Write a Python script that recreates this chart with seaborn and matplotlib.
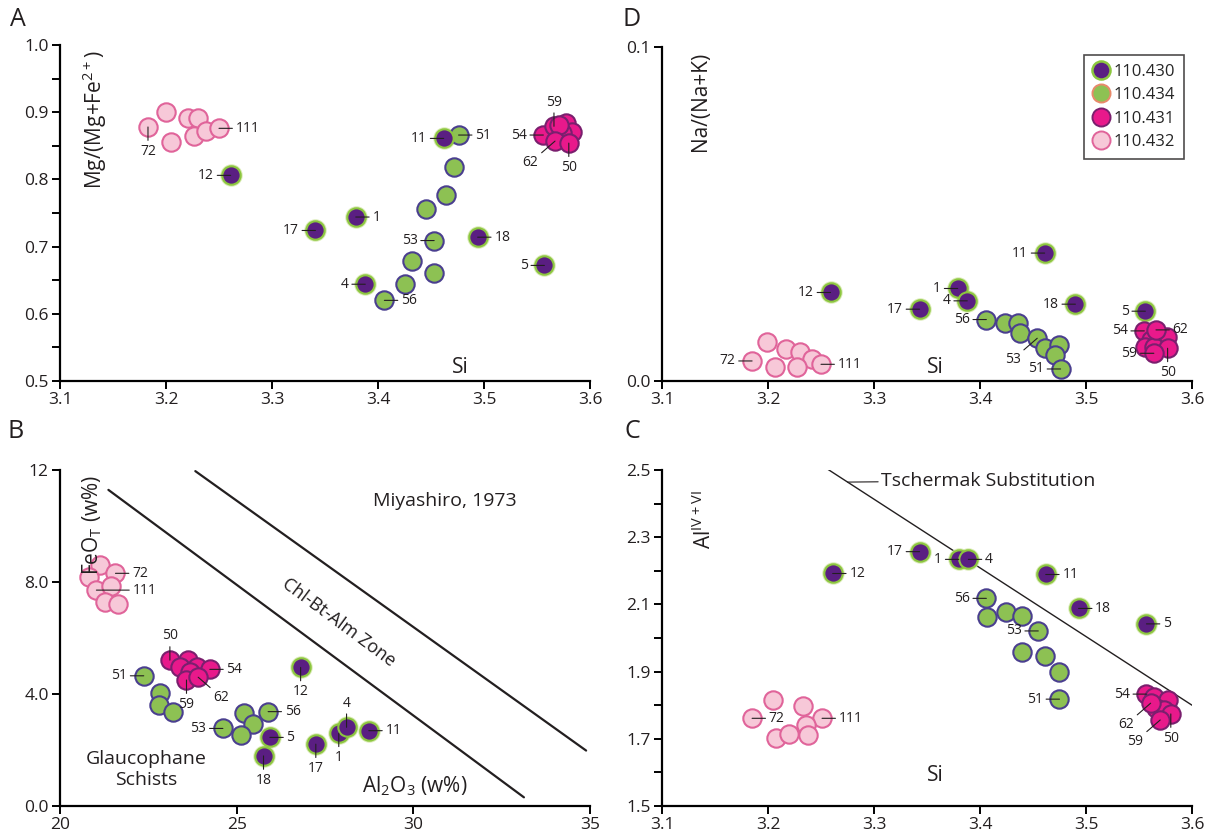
import math
import pandas as pd
import seaborn as sns
import matplotlib.pyplot as plt
from matplotlib.lines import Line2D
from matplotlib.ticker import MultipleLocator, FormatStrFormatter

# ---------------- data ----------------
groups = ['110.430', '110.434', '110.431', '110.432']

# A: Si vs Mg/(Mg+Fe2+)
a_430_si = [3.261, 3.341, 3.379, 3.388, 3.494, 3.557, 3.462]
a_430_y = [0.806, 0.724, 0.744, 0.644, 0.714, 0.672, 0.861]
a_430_lbl = ['12', '17', '1', '4', '18', '5', '11']
a_434_si = [3.476, 3.472, 3.464, 3.445, 3.453, 3.432, 3.453, 3.425, 3.406]
a_434_y = [0.866, 0.819, 0.777, 0.756, 0.709, 0.679, 0.661, 0.644, 0.620]
a_434_lbl = ['51', '', '', '', '53', '', '', '', '56']
a_431_si = [3.556, 3.566, 3.577, 3.583, 3.574, 3.571, 3.567, 3.580]
a_431_y = [0.866, 0.879, 0.884, 0.871, 0.869, 0.881, 0.857, 0.854]
a_431_lbl = ['54', '59', '', '', '', '', '62', '50']
a_432_si = [3.183, 3.200, 3.205, 3.221, 3.230, 3.226, 3.238, 3.250]
a_432_y = [0.878, 0.901, 0.855, 0.892, 0.892, 0.864, 0.872, 0.876]
a_432_lbl = ['72', '', '', '', '', '', '', '111']

# D: Si vs Na/(Na+K)
d_430_si = [3.259, 3.343, 3.379, 3.388, 3.490, 3.556, 3.461]
d_430_y = [0.0265, 0.0215, 0.0277, 0.0240, 0.0230, 0.0209, 0.0383]
d_430_lbl = ['12', '17', '1', '4', '18', '5', '11']
d_434_si = [3.406, 3.424, 3.436, 3.438, 3.454, 3.461, 3.475, 3.471, 3.476]
d_434_y = [0.0184, 0.0174, 0.0174, 0.0143, 0.0128, 0.0100, 0.0108, 0.0078, 0.0036]
d_434_lbl = ['56', '', '', '', '53', '', '', '', '51']
d_431_si = [3.555, 3.576, 3.561, 3.556, 3.564, 3.577, 3.564, 3.566]
d_431_y = [0.0150, 0.0133, 0.0123, 0.0103, 0.0103, 0.0098, 0.0083, 0.0153]
d_431_lbl = ['54', '', '', '', '', '50', '59', '62']
d_432_si = [3.185, 3.1995, 3.217, 3.230, 3.2415, 3.250, 3.207, 3.227]
d_432_y = [0.0060, 0.0116, 0.0096, 0.0086, 0.0066, 0.0050, 0.0043, 0.0043]
d_432_lbl = ['72', '', '', '', '', '111', '', '']

# B: Al2O3 vs FeOT (w%)
b_430_al = [26.81, 27.24, 27.89, 28.11, 25.76, 25.94, 28.74]
b_430_fe = [4.95, 2.21, 2.60, 2.81, 1.79, 2.45, 2.69]
b_430_lbl = ['12', '17', '1', '4', '18', '5', '11']
b_434_al = [22.37, 22.83, 22.81, 23.19, 24.61, 25.22, 25.47, 25.11, 25.89]
b_434_fe = [4.65, 4.05, 3.61, 3.35, 2.77, 3.31, 2.92, 2.54, 3.37]
b_434_lbl = ['51', '', '', '', '53', '', '', '', '56']
b_431_al = [23.11, 23.63, 23.39, 23.87, 24.24, 23.67, 23.58, 23.91]
b_431_fe = [5.21, 5.21, 4.96, 4.96, 4.88, 4.80, 4.50, 4.60]
b_431_lbl = ['50', '', '', '', '54', '', '59', '62']
b_432_al = [21.14, 20.83, 21.57, 21.03, 21.44, 21.28, 21.64]
b_432_fe = [8.61, 8.19, 8.31, 7.71, 7.87, 7.30, 7.20]
b_432_lbl = ['', '', '72', '111', '', '', '']

# C: Si vs Al(IV+VI)
c_430_si = [3.261, 3.343, 3.380, 3.389, 3.493, 3.557, 3.462]
c_430_y = [2.192, 2.257, 2.234, 2.234, 2.088, 2.042, 2.189]
c_430_lbl = ['12', '17', '1', '4', '18', '5', '11']
c_434_si = [3.406, 3.407, 3.425, 3.440, 3.455, 3.440, 3.461, 3.475, 3.475]
c_434_y = [2.118, 2.063, 2.076, 2.065, 2.021, 1.958, 1.946, 1.898, 1.818]
c_434_lbl = ['56', '', '', '', '53', '', '', '', '51']
c_431_si = [3.557, 3.564, 3.577, 3.566, 3.574, 3.580, 3.570, 3.561]
c_431_y = [1.833, 1.823, 1.814, 1.791, 1.786, 1.774, 1.756, 1.806]
c_431_lbl = ['54', '', '', '', '', '50', '59', '62']
c_432_si = [3.185, 3.205, 3.233, 3.251, 3.208, 3.220, 3.236, 3.238]
c_432_y = [1.761, 1.815, 1.799, 1.761, 1.701, 1.713, 1.741, 1.711]
c_432_lbl = ['72', '', '', '111', '', '', '', '']

# reference lines
miyashiro_lo_al = [21.37, 33.13]
miyashiro_lo_fe = [11.29, 0.31]
miyashiro_hi_al = [23.83, 34.89]
miyashiro_hi_fe = [11.96, 1.98]
tschermak_si = [3.2565, 3.60]
tschermak_al = [2.502, 1.80]

# ---------------- style ----------------
sns.set_theme(style='ticks')
plt.rcParams['font.family'] = ['Open Sans', 'DejaVu Sans']
plt.rcParams['mathtext.default'] = 'regular'
INK = '#231f20'

fill = {'110.430': '#5a1e82', '110.434': '#8dc153', '110.431': '#e8198b', '110.432': '#f7c8d8'}
edge = {'110.430': '#8cc63f', '110.434': '#4a3f8f', '110.431': '#7a1f6e', '110.432': '#e0649a'}

OFF = {'l': (-12, 0, 'right', 'center'), 'r': (12, 0, 'left', 'center'),
       't': (0, 12, 'center', 'bottom'), 'b': (0, -12, 'center', 'top'),
       'bl': (-12, -10, 'right', 'top'), 'br': (11, -9, 'left', 'top'),
       'rr': (26, 0, 'left', 'center')}

a_where = {'12': 'l', '17': 'l', '1': 'r', '4': 'l', '18': 'r', '5': 'l', '11': 'l', '51': 'r', '53': 'l',
           '56': 'r', '54': 'l', '59': 't', '62': 'bl', '50': 'b', '72': 'b', '111': 'r'}
d_where = {'12': 'l', '17': 'l', '1': 'l', '4': 'l', '18': 'l', '5': 'l', '11': 'l', '56': 'l', '53': 'bl',
           '51': 'l', '54': 'l', '62': 'r', '59': 'l', '50': 'b', '72': 'l', '111': 'r'}
b_where = {'12': 'b', '17': 'b', '1': 'b', '4': 't', '18': 'b', '5': 'r', '11': 'r', '51': 'l', '53': 'l',
           '56': 'r', '50': 't', '54': 'r', '59': 'b', '62': 'br', '72': 'r', '111': 'rr'}
c_where = {'12': 'r', '17': 'l', '1': 'l', '4': 'r', '18': 'r', '5': 'r', '11': 'r', '56': 'l', '53': 'l',
           '51': 'l', '54': 'l', '62': 'bl', '59': 'bl', '50': 'b', '72': 'r', '111': 'r'}


def draw_group(ax, xs, ys, lbls, g, where):
    df = pd.DataFrame({'x': xs, 'y': ys})
    if g == '110.430':
        # soft green halo round the purple dots
        sns.scatterplot(data=df, x='x', y='y', ax=ax, s=260, color='#cfe6a0', linewidth=0,
                        alpha=0.8, legend=False, zorder=2, clip_on=False)
    sns.scatterplot(data=df, x='x', y='y', ax=ax, s=175, color=fill[g], edgecolor=edge[g],
                    linewidth=1.5, legend=False, zorder=3, clip_on=False)
    for x, y, t in zip(xs, ys, lbls):
        if not t:
            continue
        dx, dy, ha, va = OFF[where[t]]
        ax.annotate(t, xy=(x, y), xytext=(dx, dy), textcoords='offset points', ha=ha, va=va,
                    fontsize=10, color=INK, zorder=5,
                    arrowprops=dict(arrowstyle='-', lw=0.8, color=INK, shrinkA=0, shrinkB=0))


def style_axes(ax):
    sns.despine(ax=ax)
    for s in ['left', 'bottom']:
        ax.spines[s].set_linewidth(1.6)
        ax.spines[s].set_color('black')
    ax.tick_params(which='both', direction='out', length=6, width=1.4, color='black',
                   labelsize=12.5, labelcolor=INK, pad=2)
    ax.set_xlabel('')
    ax.set_ylabel('')


W, H = 1206, 836
fig = plt.figure(figsize=(W / 100, H / 100), dpi=100)


def box(x0, x1, ytop, ybot):
    return [x0 / W, 1 - ybot / H, (x1 - x0) / W, (ybot - ytop) / H]


axA = fig.add_axes(box(60, 590, 45, 381))
axD = fig.add_axes(box(662, 1192, 47, 381))
axB = fig.add_axes(box(60, 590, 470, 806))
axC = fig.add_axes(box(662, 1192, 470, 806))

# panel A
for xs, ys, lb, g in [(a_432_si, a_432_y, a_432_lbl, '110.432'), (a_434_si, a_434_y, a_434_lbl, '110.434'),
                      (a_430_si, a_430_y, a_430_lbl, '110.430'), (a_431_si, a_431_y, a_431_lbl, '110.431')]:
    draw_group(axA, xs, ys, lb, g, a_where)
axA.set_xlim(3.1, 3.6)
axA.set_ylim(0.5, 1.0)
axA.xaxis.set_major_locator(MultipleLocator(0.1))
axA.yaxis.set_major_locator(MultipleLocator(0.1))
axA.yaxis.set_minor_locator(MultipleLocator(0.05))
axA.xaxis.set_major_formatter(FormatStrFormatter('%.1f'))
axA.yaxis.set_major_formatter(FormatStrFormatter('%.1f'))
style_axes(axA)
axA.text(0.066, 0.985, 'Mg/(Mg+Fe$^{2+}$)', transform=axA.transAxes, rotation=90, ha='center', va='top',
         fontsize=15, color=INK)
axA.text(0.755, 0.04, 'Si', transform=axA.transAxes, ha='center', va='center', fontsize=15, color=INK)

# panel D
for xs, ys, lb, g in [(d_432_si, d_432_y, d_432_lbl, '110.432'), (d_434_si, d_434_y, d_434_lbl, '110.434'),
                      (d_430_si, d_430_y, d_430_lbl, '110.430'), (d_431_si, d_431_y, d_431_lbl, '110.431')]:
    draw_group(axD, xs, ys, lb, g, d_where)
axD.set_xlim(3.1, 3.6)
axD.set_ylim(0.0, 0.1)
axD.xaxis.set_major_locator(MultipleLocator(0.1))
axD.yaxis.set_major_locator(MultipleLocator(0.1))
axD.xaxis.set_major_formatter(FormatStrFormatter('%.1f'))
axD.yaxis.set_major_formatter(FormatStrFormatter('%.1f'))
style_axes(axD)
axD.text(0.072, 0.985, 'Na/(Na+K)', transform=axD.transAxes, rotation=90, ha='center', va='top',
         fontsize=15, color=INK)
axD.text(0.515, 0.04, 'Si', transform=axD.transAxes, ha='center', va='center', fontsize=15, color=INK)

handles = [Line2D([], [], marker='o', ls='', ms=13, mfc=fill['110.430'], mec=edge['110.430'], mew=1.8),
           Line2D([], [], marker='o', ls='', ms=13, mfc=fill['110.434'], mec='#e8896a', mew=1.4),
           Line2D([], [], marker='o', ls='', ms=13, mfc=fill['110.431'], mec=edge['110.431'], mew=1.4),
           Line2D([], [], marker='o', ls='', ms=13, mfc=fill['110.432'], mec=edge['110.432'], mew=1.4)]
leg = axD.legend(handles, groups, loc='upper right', bbox_to_anchor=(1.0, 1.0), frameon=True, fancybox=False,
                 fontsize=12, handletextpad=0.3, borderpad=0.5, labelspacing=0.45, handlelength=1.0)
leg.get_frame().set_edgecolor(INK)
leg.get_frame().set_linewidth(1.2)

# panel B
axB.plot(miyashiro_lo_al, miyashiro_lo_fe, color=INK, lw=1.6)
axB.plot(miyashiro_hi_al, miyashiro_hi_fe, color=INK, lw=1.6)
for xs, ys, lb, g in [(b_432_al, b_432_fe, b_432_lbl, '110.432'), (b_434_al, b_434_fe, b_434_lbl, '110.434'),
                      (b_430_al, b_430_fe, b_430_lbl, '110.430'), (b_431_al, b_431_fe, b_431_lbl, '110.431')]:
    draw_group(axB, xs, ys, lb, g, b_where)
axB.set_xlim(20, 35)
axB.set_ylim(0, 12)
axB.xaxis.set_major_locator(MultipleLocator(5))
axB.set_yticks([0, 4, 8, 12])
axB.set_yticklabels(['0.0', '4.0', '8.0', '12'])
style_axes(axB)
p0 = axB.transData.transform((miyashiro_lo_al[0], miyashiro_lo_fe[0]))
p1 = axB.transData.transform((miyashiro_lo_al[1], miyashiro_lo_fe[1]))
ang = math.degrees(math.atan2(p1[1] - p0[1], p1[0] - p0[0]))
axB.text(27.9, 6.55, 'Chl-Bt-Alm Zone', rotation=ang, rotation_mode='anchor', ha='center', va='center',
         fontsize=13, color=INK)
axB.text(30.9, 10.9, 'Miyashiro, 1973', ha='center', va='center', fontsize=14, color=INK)
axB.text(22.45, 1.3, 'Glaucophane\nSchists', ha='center', va='center', fontsize=14, color=INK,
         linespacing=1.25)
axB.text(0.67, 0.06, 'Al$_2$O$_3$ (w%)', transform=axB.transAxes, ha='center', va='center', fontsize=15,
         color=INK)
axB.text(0.06, 0.985, 'FeO$_T$ (w%)', transform=axB.transAxes, rotation=90, ha='center', va='top',
         fontsize=15, color=INK)

# panel C
axC.plot(tschermak_si, tschermak_al, color=INK, lw=1.0)
for xs, ys, lb, g in [(c_432_si, c_432_y, c_432_lbl, '110.432'), (c_434_si, c_434_y, c_434_lbl, '110.434'),
                      (c_430_si, c_430_y, c_430_lbl, '110.430'), (c_431_si, c_431_y, c_431_lbl, '110.431')]:
    draw_group(axC, xs, ys, lb, g, c_where)
axC.set_xlim(3.1, 3.6)
axC.set_ylim(1.5, 2.5)
axC.xaxis.set_major_locator(MultipleLocator(0.1))
axC.set_yticks([1.5, 1.7, 1.9, 2.1, 2.3, 2.5])
axC.yaxis.set_minor_locator(MultipleLocator(0.1))
axC.xaxis.set_major_formatter(FormatStrFormatter('%.1f'))
axC.yaxis.set_major_formatter(FormatStrFormatter('%.1f'))
style_axes(axC)
axC.annotate('Tschermak Substitution', xy=(3.275, 2.464), xytext=(3.307, 2.468), ha='left', va='center',
             fontsize=14, color=INK,
             arrowprops=dict(arrowstyle='-', lw=0.8, color=INK, shrinkA=0, shrinkB=0))
axC.text(0.08, 0.94, 'Al$^{IV+VI}$', transform=axC.transAxes, rotation=90, ha='center', va='top',
         fontsize=15, color=INK)
axC.text(0.515, 0.092, 'Si', transform=axC.transAxes, ha='center', va='center', fontsize=15, color=INK)

# panel letters
for t, x, y in [('A', 18, 20), ('D', 632, 20), ('B', 16, 432), ('C', 632, 432)]:
    fig.text(x / W, 1 - y / H, t, ha='center', va='center', fontsize=18, color=INK)

fig.savefig('out.png', dpi=100)
